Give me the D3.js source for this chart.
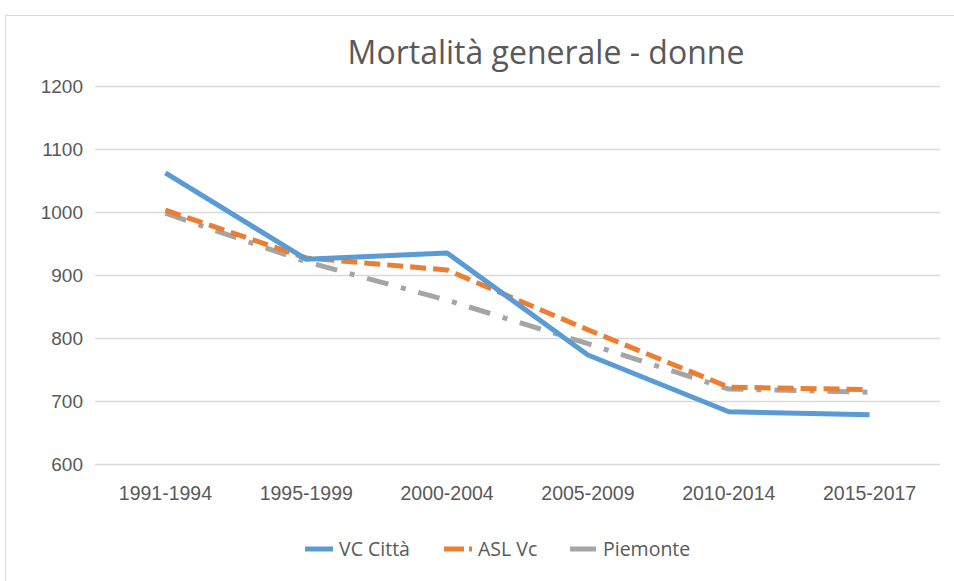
<!DOCTYPE html>
<html lang="it">
<head>
<meta charset="UTF-8">
<script src="https://d3js.org/d3.v7.min.js"></script>
<title>Mortalità generale - donne</title>
<style>
  body { margin: 0; background: #fff; font-family: "Open Sans", "Noto Sans", sans-serif; }
  .tick text { fill: #595959; }
</style>
</head>
<body>
<script>
  // Chart data
  const periods = ["1991-1994", "1995-1999", "2000-2004", "2005-2009", "2010-2014", "2015-2017"];
  const vcCitta  = [1062, 925, 935, 773, 683, 678];
  const aslVc    = [1003, 927, 908, 813, 722, 718];
  const piemonte = [998, 921, 860, 791, 719, 714];
  const yTicks = [600, 700, 800, 900, 1000, 1100, 1200];

  const width = 954, height = 581;
  const margin = { top: 86, right: 14, bottom: 117, left: 95 };

  const svg = d3.select("body").append("svg")
    .attr("width", width)
    .attr("height", height);

  // chart frame
  svg.append("rect")
    .attr("x", 5.5).attr("y", 15.5)
    .attr("width", width + 10).attr("height", height)
    .attr("fill", "none").attr("stroke", "#d9d9d9");

  const x = d3.scaleBand().domain(periods).range([margin.left, width - margin.right]);
  const y = d3.scaleLinear().domain([600, 1200]).range([height - margin.bottom, margin.top]);

  // gridlines
  svg.append("g").selectAll("line")
    .data(yTicks).enter().append("line")
    .attr("x1", margin.left).attr("x2", width - margin.right)
    .attr("y1", d => Math.round(y(d)) + 0.5).attr("y2", d => Math.round(y(d)) + 0.5)
    .attr("stroke", "#d9d9d9").attr("stroke-width", 1.3);

  // y axis labels
  const yAxis = svg.append("g")
    .attr("transform", `translate(${margin.left - 12},0)`)
    .call(d3.axisLeft(y).tickValues(yTicks).tickFormat(d3.format("d")).tickSize(0).tickPadding(0));
  yAxis.select(".domain").remove();
  yAxis.selectAll("text").style("font-size", "19px").attr("dy", "0.36em");

  // x axis labels
  const xAxis = svg.append("g")
    .attr("transform", `translate(0,${height - margin.bottom + 22})`)
    .call(d3.axisBottom(x).tickSize(0).tickPadding(0));
  xAxis.select(".domain").remove();
  xAxis.selectAll("text").style("font-size", "19.5px");

  // title
  svg.append("text")
    .attr("x", 546).attr("y", 64)
    .attr("text-anchor", "middle")
    .attr("fill", "#595959")
    .style("font-size", "32px")
    .text("Mortalità generale - donne");

  const series = [
    { name: "VC Città", values: vcCitta, color: "#5b9bd5", dash: null },
    { name: "ASL Vc", values: aslVc, color: "#ed7d31", dash: "16,7" },
    { name: "Piemonte", values: piemonte, color: "#a5a5a5", dash: "22,13,5,13" }
  ];

  const line = d3.line()
    .x((d, i) => x(periods[i]) + x.bandwidth() / 2)
    .y(d => y(d));

  // draw Piemonte first, then ASL, then VC on top
  [series[2], series[1], series[0]].forEach(s => {
    svg.append("path")
      .datum(s.values)
      .attr("d", line)
      .attr("fill", "none")
      .attr("stroke", s.color)
      .attr("stroke-width", 5)
      .attr("stroke-linejoin", "round")
      .attr("stroke-dasharray", s.dash);
  });

  // legend
  const legendX = [305, 444, 570];
  const legend = svg.append("g").attr("transform", "translate(0,549)");
  series.forEach((s, i) => {
    const g = legend.append("g").attr("transform", `translate(${legendX[i]},0)`);
    g.append("line")
      .attr("x1", 0).attr("x2", i === 2 ? 26 : 28).attr("y1", 0).attr("y2", 0)
      .attr("stroke", s.color).attr("stroke-width", 5)
      .attr("stroke-dasharray", i === 1 ? "20,5,3,10" : null);
    g.append("text")
      .attr("x", i === 2 ? 33 : 34).attr("y", 7)
      .attr("fill", "#595959")
      .style("font-size", "19.5px")
      .text(s.name);
  });
</script>
</body>
</html>
